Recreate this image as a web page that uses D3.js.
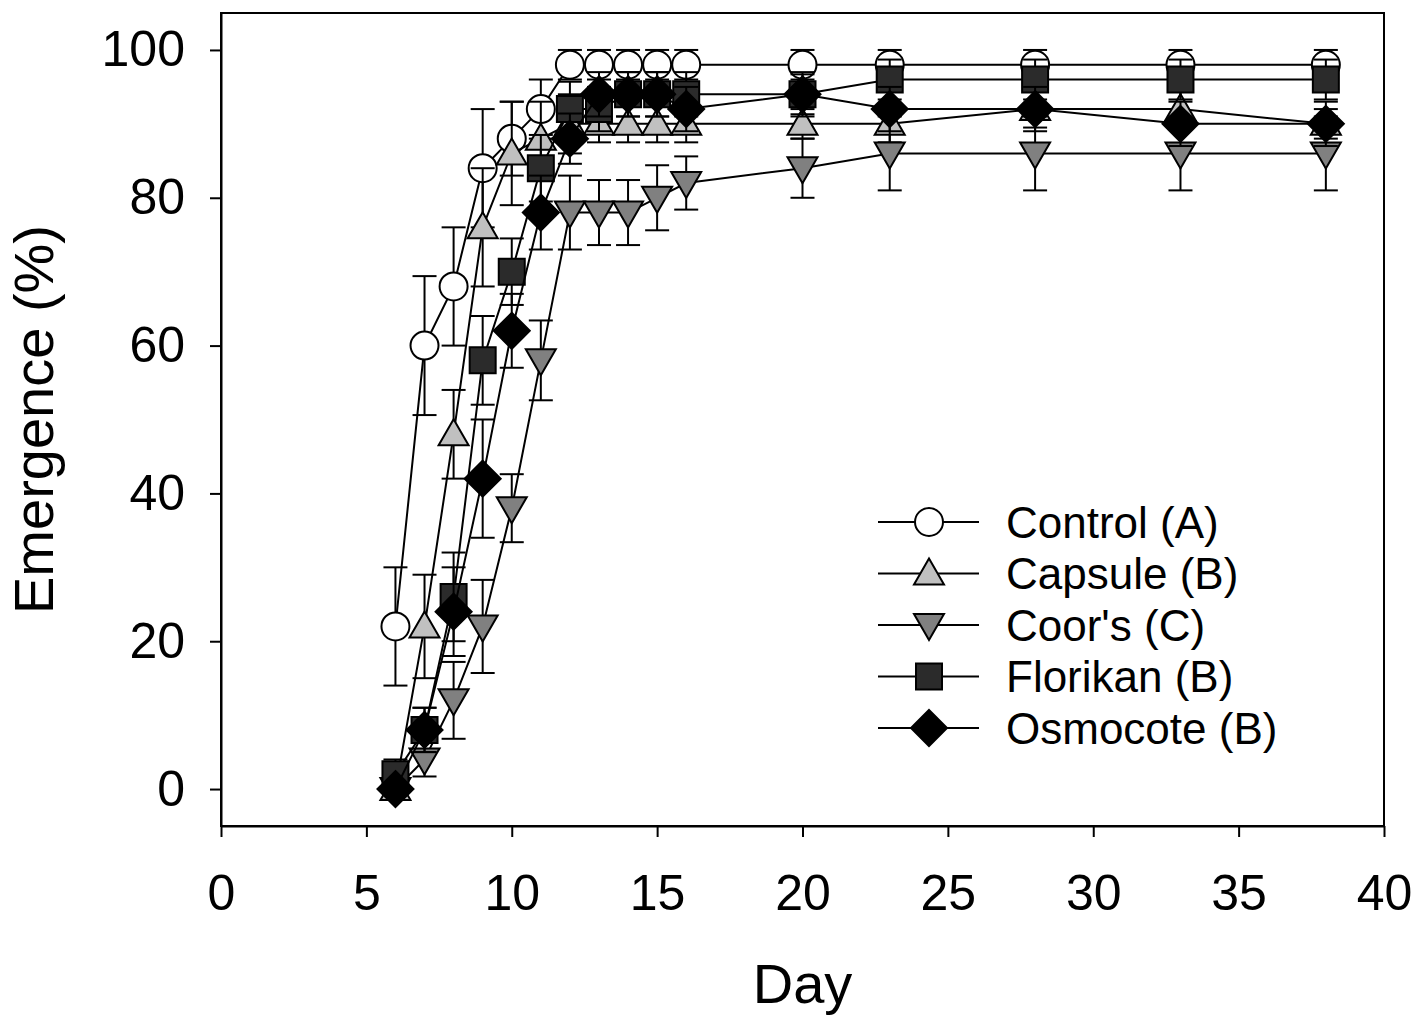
<!DOCTYPE html>
<html>
<head>
<meta charset="utf-8">
<script src="https://cdn.jsdelivr.net/npm/d3@7"></script>
<style>
  body { margin: 0; background: #fff; }
  text { font-family: "Liberation Sans", Arial, sans-serif; fill: #000; }
</style>
</head>
<body>
<div id="chart"></div>
<script>
// Data
const days = [6, 7, 8, 9, 10, 11, 12, 13, 14, 15, 16, 20, 23, 28, 33, 38]
const seriesNames = ["Control (A)", "Capsule (B)", "Coor's (C)", "Florikan (B)", "Osmocote (B)"]

const controlValues  = [22, 60, 68, 84, 88, 92, 98, 98, 98, 98, 98, 98, 98, 98, 98, 98]
const controlErr     = [8, 9.4, 8, 8, 5, 4, 2, 2, 2, 2, 2, 2, 2, 2, 2, 2]
const capsuleValues  = [0, 22, 48, 76, 86, 88, 90, 90, 90, 90, 90, 90, 90, 92, 92, 90]
const capsuleErr     = [0, 7, 6, 8, 7, 5, 4, 2.5, 2.5, 2.5, 2.5, 2, 2.5, 2.5, 2.5, 2]
const coorsValues    = [0, 4, 12, 22, 38, 58, 78, 78, 78, 80, 82, 84, 86, 86, 86, 86]
const coorsErr       = [0, 2.3, 5.2, 6.3, 4.6, 5.4, 5, 4.4, 4.4, 4.4, 3.6, 4, 5, 5, 5, 5]
const florikanValues = [2, 8, 26, 58, 70, 84, 92, 92, 94, 94, 94, 94, 96, 96, 96, 96]
const florikanErr    = [2, 3, 6, 6, 4.5, 4.5, 3.7, 3, 3, 3, 3, 2.7, 2.7, 2.7, 2.7, 2.7]
const osmocoteValues = [0, 8, 24, 42, 62, 78, 88, 94, 94, 94, 92, 94, 92, 92, 90, 90]
const osmocoteErr    = [0, 3, 6, 8, 5, 5, 3.4, 3, 3, 3, 3, 3, 3, 3, 3, 3]

const xTicks = [0, 5, 10, 15, 20, 25, 30, 35, 40]
const yTicks = [0, 20, 40, 60, 80, 100]

const styles = [
  { shape: "circle",   fill: "#ffffff" },
  { shape: "triUp",    fill: "#c0c0c0" },
  { shape: "triDown",  fill: "#808080" },
  { shape: "square",   fill: "#2b2b2b" },
  { shape: "diamond",  fill: "#000000" }
]

const allValues = [controlValues, capsuleValues, coorsValues, florikanValues, osmocoteValues]
const allErr = [controlErr, capsuleErr, coorsErr, florikanErr, osmocoteErr]

const series = seriesNames.map((name, i) => ({
  name,
  style: styles[i],
  points: days.map((d, j) => ({ day: d, value: allValues[i][j], err: allErr[i][j] }))
}))

// Dimensions
let dimensions = {
  width: 1416,
  height: 1015,
  margin: { top: 13, right: 32, bottom: 189, left: 221 }
}
dimensions.ctrWidth = dimensions.width - dimensions.margin.left - dimensions.margin.right
dimensions.ctrHeight = dimensions.height - dimensions.margin.top - dimensions.margin.bottom

const svg = d3.select('#chart')
  .append('svg')
  .attr('width', dimensions.width)
  .attr('height', dimensions.height)

const ctr = svg.append('g')
  .attr('transform', `translate(${dimensions.margin.left}, ${dimensions.margin.top})`)

// Scales
const xScale = d3.scaleLinear().domain([0, 40]).range([0, dimensions.ctrWidth])
const yScale = d3.scaleLinear().domain([-5, 105]).range([dimensions.ctrHeight, 0])

// marker paths
function markerPath(shape) {
  const p = d3.path()
  if (shape === "circle") {
    p.arc(0, 0, 14, 0, Math.PI * 2)
  } else if (shape === "triUp") {
    p.moveTo(0, -15); p.lineTo(15, 11); p.lineTo(-15, 11); p.closePath()
  } else if (shape === "triDown") {
    p.moveTo(0, 15); p.lineTo(15, -11); p.lineTo(-15, -11); p.closePath()
  } else if (shape === "square") {
    p.rect(-13, -13, 26, 26)
  } else if (shape === "diamond") {
    p.moveTo(0, -18); p.lineTo(18, 0); p.lineTo(0, 18); p.lineTo(-18, 0); p.closePath()
  }
  return p.toString()
}

// Frame
ctr.append('rect')
  .attr('width', dimensions.ctrWidth)
  .attr('height', dimensions.ctrHeight)
  .attr('fill', 'none')
  .attr('stroke', '#000')
  .attr('stroke-width', 2)

// Axes
const yAxis = d3.axisLeft(yScale).tickValues(yTicks).tickSizeInner(11).tickSizeOuter(0).tickPadding(25)
const xAxis = d3.axisBottom(xScale).tickValues(xTicks).tickSizeInner(11).tickSizeOuter(0).tickPadding(37)

const yG = ctr.append('g').call(yAxis)
const xG = ctr.append('g').attr('transform', `translate(0, ${dimensions.ctrHeight})`).call(xAxis)

;[xG, yG].forEach(g => {
  g.select('.domain').attr('stroke-width', 2)
  g.selectAll('.tick line').attr('stroke-width', 2)
  g.selectAll('.tick text')
    .attr('font-size', 50)
    .attr('font-family', '"Liberation Sans", Arial, sans-serif')
})

// Axis titles
svg.append('text')
  .attr('x', dimensions.margin.left + dimensions.ctrWidth / 2)
  .attr('y', 1003)
  .attr('text-anchor', 'middle')
  .attr('font-size', 56)
  .text('Day')

svg.append('text')
  .attr('transform', `translate(53, ${dimensions.margin.top + dimensions.ctrHeight / 2}) rotate(-90)`)
  .attr('text-anchor', 'middle')
  .attr('font-size', 56)
  .text('Emergence (%)')

// Series
const lineGenerator = d3.line()
  .x(d => xScale(d.day))
  .y(d => yScale(d.value))

series.forEach(s => {
  const g = ctr.append('g')

  g.append('path')
    .datum(s.points)
    .attr('d', lineGenerator)
    .attr('fill', 'none')
    .attr('stroke', '#000')
    .attr('stroke-width', 2)

  const eb = g.selectAll('.eb')
    .data(s.points.filter(d => d.err > 0))
    .join('g')
    .attr('stroke', '#000')
    .attr('stroke-width', 2)

  eb.append('line')
    .attr('x1', d => xScale(d.day)).attr('x2', d => xScale(d.day))
    .attr('y1', d => yScale(d.value - d.err)).attr('y2', d => yScale(d.value + d.err))
  eb.append('line')
    .attr('x1', d => xScale(d.day) - 12).attr('x2', d => xScale(d.day) + 12)
    .attr('y1', d => yScale(d.value + d.err)).attr('y2', d => yScale(d.value + d.err))
  eb.append('line')
    .attr('x1', d => xScale(d.day) - 12).attr('x2', d => xScale(d.day) + 12)
    .attr('y1', d => yScale(d.value - d.err)).attr('y2', d => yScale(d.value - d.err))

  g.selectAll('.mk')
    .data(s.points)
    .join('path')
    .attr('transform', d => `translate(${xScale(d.day)}, ${yScale(d.value)})`)
    .attr('d', markerPath(s.style.shape))
    .attr('fill', s.style.fill)
    .attr('stroke', '#000')
    .attr('stroke-width', 2)
})

// Legend
const legend = svg.append('g').attr('transform', 'translate(878, 522)')
const legendRows = legend.selectAll('g')
  .data(series)
  .join('g')
  .attr('transform', (d, i) => `translate(0, ${i * 51.5})`)

legendRows.append('line')
  .attr('x1', 0).attr('x2', 101)
  .attr('stroke', '#000').attr('stroke-width', 2)
legendRows.append('path')
  .attr('transform', 'translate(51, 0)')
  .attr('d', d => markerPath(d.style.shape))
  .attr('fill', d => d.style.fill)
  .attr('stroke', '#000')
  .attr('stroke-width', 2)
legendRows.append('text')
  .attr('x', 128)
  .attr('dy', '0.36em')
  .attr('font-size', 44)
  .text(d => d.name)
</script>
</body>
</html>
